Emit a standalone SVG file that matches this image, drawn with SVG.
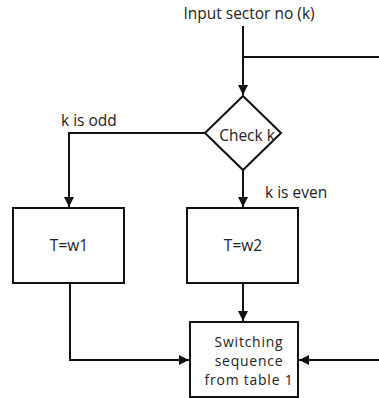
<svg xmlns="http://www.w3.org/2000/svg" width="379" height="398" viewBox="0 0 379 398">
<style>
text{font-family:"Open Sans","Liberation Sans",sans-serif;font-size:15.5px;fill:#222}
.s{font-size:13.9px;letter-spacing:0.8px}
.b{fill:#fff;stroke:#111;stroke-width:2}
.c{fill:none;stroke:#111;stroke-width:2}
</style>
<defs>
<marker id="ah" viewBox="0 0 10 10" refX="10" refY="5" markerWidth="5" markerHeight="5" orient="auto" markerUnits="strokeWidth">
<path d="M0,0 L10,5 L0,10 z" fill="#111"/>
</marker>
</defs>
<rect width="379" height="398" fill="#fff"/>
<g id="connectors">
<path class="c" d="M243,26 V95" marker-end="url(#ah)"/>
<path class="c" d="M243,57 H379"/>
<path class="c" d="M205,133 H69 V207" marker-end="url(#ah)"/>
<path class="c" d="M243,170 V207" marker-end="url(#ah)"/>
<path class="c" d="M243,283 V321" marker-end="url(#ah)"/>
<path class="c" d="M70,283 V360 H189" marker-end="url(#ah)"/>
<path class="c" d="M379,360 H299" marker-end="url(#ah)"/>
</g>
<g id="input"><text x="249" y="19" text-anchor="middle">Input sector no (k)</text></g>
<g id="check">
<path class="b" d="M243,96 L281,133 L243,170 L205,133 Z"/>
<text x="247" y="141" text-anchor="middle">Check k</text>
</g>
<g id="lbl-odd"><text x="61" y="126">k is odd</text></g>
<g id="lbl-even"><text x="265" y="198">k is even</text></g>
<g id="w1">
<rect class="b" x="13" y="208" width="111" height="75"/>
<text x="69" y="251" text-anchor="middle">T=w1</text>
</g>
<g id="w2">
<rect class="b" x="187" y="208" width="111" height="75"/>
<text x="243" y="251" text-anchor="middle">T=w2</text>
</g>
<g id="switch">
<rect class="b" x="190" y="322" width="108" height="75"/>
<text class="s" x="249" y="347" text-anchor="middle">Switching</text>
<text class="s" x="249" y="366.2" text-anchor="middle">sequence</text>
<text class="s" x="249" y="385.4" text-anchor="middle">from table 1</text>
</g>
</svg>
